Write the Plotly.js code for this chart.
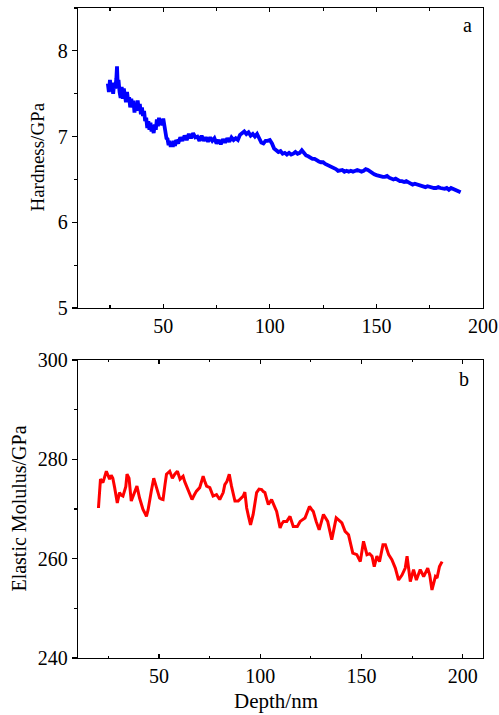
<!DOCTYPE html>
<html>
<head>
<meta charset="utf-8">
<script src="https://cdn.plot.ly/plotly-3.0.1.min.js"></script>
<style>html,body{margin:0;padding:0;background:#fff;}#chart{width:499px;height:715px;}
#chart .xtick text, #chart .ytick text, #chart .x2tick text, #chart .y2tick text { font-family: "Liberation Serif", "Times New Roman", serif !important; }
</style>
</head>
<body>
<div id="chart"></div>
<script>
// Hardness vs depth (panel a)
const hardDepth = [24,24.5,25,25.5,26,26.5,27,27.5,28,28.3,28.6,29,29.5,30,30.5,31,31.5,32,32.5,33,33.5,34,34.5,35,35.5,36,36.5,37,37.5,38,38.5,39,39.5,40,40.5,41,41.5,42,42.5,43,43.5,44,44.5,45,45.5,46,46.5,47,47.5,48,48.5,49,49.5,50,50.5,51,51.5,52,52.5,53,53.5,54,54.5,55,55.5,56,
57,58,59,60,61,62,63,64,65,66,67,68,69,70,71,72,73,74,75,76,77,78,79,80,81,82,83,84,85,86,87,88,89,90,91,92,93,94,95,96,97,98,99,100,101,102,103,104,105,106,107,108,109,110,111,112,113,114,115,116,117,118,119,120,121,122,123,124,125,126,127,128,129,130,131,132,133,134,135,136,137,138,139,140,141,142,143,144,145,146,147,148,149,150,151,152,153,154,155,156,157,158,159,160,161,162,163,164,165,166,167,168,169,170,171,172,173,174,175,176,177,178,179,180,181,182,183,184,185,186,187,188,189,189.5];
const hardness = [7.62,7.52,7.66,7.55,7.60,7.50,7.63,7.56,7.68,7.82,7.62,7.66,7.52,7.45,7.58,7.44,7.56,7.48,7.40,7.52,7.42,7.46,7.34,7.44,7.36,7.42,7.28,7.38,7.30,7.42,7.32,7.38,7.26,7.34,7.24,7.30,7.18,7.22,7.10,7.18,7.08,7.16,7.06,7.12,7.04,7.14,7.08,7.20,7.12,7.22,7.14,7.20,7.13,7.21,7.12,7.08,6.98,6.97,6.90,6.95,6.88,6.93,6.88,6.95,6.89,6.96,
6.92,6.99,6.95,7.01,6.96,7.03,6.98,7.04,6.99,7.00,6.95,7.01,6.95,6.99,6.94,6.99,6.95,6.98,6.92,6.96,6.91,6.97,6.93,6.98,6.94,6.99,6.96,6.98,6.96,7.02,7.04,7.06,7.03,7.05,7.01,7.03,7.00,7.03,6.98,6.93,6.92,6.95,6.95,6.96,6.92,6.86,6.84,6.82,6.83,6.80,6.81,6.79,6.81,6.79,6.80,6.82,6.80,6.81,6.84,6.80,6.78,6.77,6.75,6.74,6.74,6.72,6.71,6.70,6.70,6.68,6.67,6.66,6.64,6.63,6.62,6.60,6.60,6.61,6.59,6.60,6.59,6.60,6.59,6.60,6.61,6.60,6.59,6.60,6.62,6.61,6.59,6.57,6.56,6.55,6.54,6.54,6.53,6.53,6.54,6.52,6.51,6.50,6.51,6.49,6.48,6.48,6.47,6.48,6.47,6.45,6.44,6.45,6.44,6.43,6.43,6.42,6.41,6.42,6.41,6.41,6.40,6.40,6.41,6.40,6.39,6.39,6.40,6.38,6.40,6.39,6.38,6.37,6.36,6.35];

// Elastic modulus vs depth (panel b)
const modDepth = [20.1,21.1,22.3,23.2,24,24.8,25.6,26.4,27.2,28.1,29.4,30.5,31.3,32.2,33,33.6,34.2,35.2,36.3,37.1,38,39.1,40.4,41.2,42.1,43,43.8,44.6,45.4,46.2,47.4,48.7,49.5,50.3,51.2,52,53,53.7,55.3,56.6,57.8,59.1,60.4,61.9,62.7,63.6,65.2,66.3,67.4,68.5,70.1,71,71.8,72.6,73.5,75.1,76.7,78.4,80,81.7,82.5,83.5,84.7,85.8,86.6,87.5,89.1,90.3,91.6,92.4,93.3,94.2,95.2,96.5,97.3,98.2,99.4,100.7,101.5,102.3,103.2,104,105.6,106.8,108.1,109.8,110.6,111.5,113.1,114.7,116.3,118.3,119.7,122.1,123.3,124.3,125.2,126.2,127.6,129.1,131.2,133.3,134.4,135.3,136.4,137.5,139.5,140.3,141.9,143.6,145.7,147.7,149.4,151,152.7,154,155.2,156.3,157.6,158.9,160.6,161.8,163.4,165,166.7,168.3,170,171.6,172.5,174.1,175.7,177.1,179,180.7,182.7,183.7,184.8,186.5,187.3,188.5,189.8];
const modulus = [270.2,276,275.3,276.5,277.6,276.8,276,276.8,276.2,274.3,271.2,273.3,272.8,272.6,273.6,274.5,277,276.2,271.6,272.4,273.3,274.6,272.2,271,269.9,269.2,268.5,269.8,271.9,273.6,276.2,274.6,273.2,272.2,272,271.9,275,277,277.6,276.2,277,277.6,276,276.6,275.5,274.6,273.3,271.9,272.8,273.6,274.3,275.4,276.6,275.6,274.6,274.3,272.6,272.9,271.9,273.3,274.9,275.5,277,274.6,273,271.6,271.6,272,272.6,273.4,270.2,268.5,266.8,268.9,271,273.3,274,273.9,273.5,273.3,272,270.9,271.9,270.8,269.5,266.2,267,267.5,267.5,268.5,266.5,266.5,267.5,268.2,269.4,270.5,270,269.5,267.5,265.8,268.9,267.5,265.5,263.8,266,268.2,267.5,267.2,265.5,264.8,261.1,260.8,259.4,263.5,260.8,261,260.5,258.4,260.5,259.4,262.8,262.8,260.8,259.8,258.1,255.7,256.7,258.1,260.5,255.4,257.8,255.7,257.8,256.4,258.1,256.7,253.7,256.4,256.1,258.4,259.4];

const xTickVals = [50,100,150,200];
const xTickText = ['50','100','150','200'];

const FONT = 'Times New Roman, Liberation Serif, serif';

const traces = [
  {x: hardDepth, y: hardness, type: 'scatter', mode: 'lines', xaxis: 'x', yaxis: 'y',
   line: {color: '#0000ff', width: 3.8}, showlegend: false, hoverinfo: 'skip'},
  {x: modDepth, y: modulus, type: 'scatter', mode: 'lines', xaxis: 'x2', yaxis: 'y2',
   line: {color: '#ff0000', width: 3}, showlegend: false, hoverinfo: 'skip'}
];

function tf() { return {family: FONT, size: 20, color: '#000'}; }

const layout = {
  width: 499, height: 715,
  margin: {l: 78, r: 16, t: 8, b: 57},
  paper_bgcolor: '#fff', plot_bgcolor: '#fff',
  font: {family: FONT, color: '#000', size: 20},
  xaxis: {domain: [0, 1], anchor: 'y', range: [10, 200],
    showgrid: false, zeroline: false, showline: true, linecolor: '#000', linewidth: 1.3,
    tickcolor: '#000', tickwidth: 1.2, tickfont: tf(),
    tickmode: 'array', tickvals: xTickVals, ticktext: xTickText,
    ticks: 'inside', ticklen: 4, mirror: 'ticks',
    minor: {tickvals: [25, 75, 125, 175], ticks: 'inside', ticklen: 2.5, tickcolor: '#000'}},
  yaxis: {domain: [0.5385, 1], anchor: 'x', range: [5, 8.5],
    showgrid: false, zeroline: false, showline: true, linecolor: '#000', linewidth: 1.3,
    tickcolor: '#000', tickwidth: 1.2, tickfont: tf(),
    dtick: 1, tick0: 0, ticks: 'outside', ticklen: 5, mirror: true,
    minor: {dtick: 0.5, ticks: 'outside', ticklen: 3, tickcolor: '#000'}},
  yaxis3: {overlaying: 'y', side: 'right', anchor: 'x', range: [5, 8.5], showgrid: false, zeroline: false,
    showline: false, showticklabels: false, dtick: 1, tick0: 0, ticks: 'inside', ticklen: 4, tickcolor: '#000', tickwidth: 1.2,
    minor: {dtick: 0.5, ticks: 'inside', ticklen: 3, tickcolor: '#000'}},
  xaxis2: {domain: [0, 1], anchor: 'y2', range: [10, 210],
    showgrid: false, zeroline: false, showline: true, linecolor: '#000', linewidth: 1.3,
    tickcolor: '#000', tickwidth: 1.2, tickfont: tf(),
    tickmode: 'array', tickvals: xTickVals, ticktext: xTickText,
    ticks: 'inside', ticklen: 4, mirror: 'ticks',
    minor: {tickvals: [25, 75, 125, 175], ticks: 'inside', ticklen: 2.5, tickcolor: '#000'}},
  yaxis2: {domain: [0, 0.4585], anchor: 'x2', range: [240, 300],
    showgrid: false, zeroline: false, showline: true, linecolor: '#000', linewidth: 1.3,
    tickcolor: '#000', tickwidth: 1.2, tickfont: tf(),
    dtick: 20, tick0: 0, ticks: 'outside', ticklen: 5, mirror: true,
    minor: {dtick: 10, ticks: 'outside', ticklen: 3, tickcolor: '#000'}},
  yaxis4: {overlaying: 'y2', side: 'right', anchor: 'x2', range: [240, 300], showgrid: false, zeroline: false,
    showline: false, showticklabels: false, dtick: 20, tick0: 0, ticks: 'inside', ticklen: 4, tickcolor: '#000', tickwidth: 1.2,
    minor: {dtick: 10, ticks: 'inside', ticklen: 3, tickcolor: '#000'}},
  annotations: [
    {text: 'a', xref: 'paper', yref: 'paper', x: 0.961, y: 0.974, showarrow: false,
     xanchor: 'center', yanchor: 'middle', font: {family: FONT, size: 20, color: '#000'}},
    {text: 'b', xref: 'paper', yref: 'paper', x: 0.954, y: 0.429, showarrow: false,
     xanchor: 'center', yanchor: 'middle', font: {family: FONT, size: 20, color: '#000'}},
    {text: 'Hardness/GPa', xref: 'paper', yref: 'paper', x: -0.101, y: 0.77, showarrow: false,
     textangle: -90, xanchor: 'center', yanchor: 'middle', font: {family: FONT, size: 19, color: '#000'}},
    {text: 'Elastic Molulus/GPa', xref: 'paper', yref: 'paper', x: -0.148, y: 0.23, showarrow: false,
     textangle: -90, xanchor: 'center', yanchor: 'middle', font: {family: FONT, size: 20, color: '#000'}},
    {text: 'Depth/nm', xref: 'paper', yref: 'paper', x: 0.488, y: -0.066, showarrow: false,
     xanchor: 'center', yanchor: 'middle', font: {family: FONT, size: 21, color: '#000'}}
  ]
};

Plotly.newPlot('chart', traces, layout, {staticPlot: true, displayModeBar: false});
</script>
</body>
</html>
